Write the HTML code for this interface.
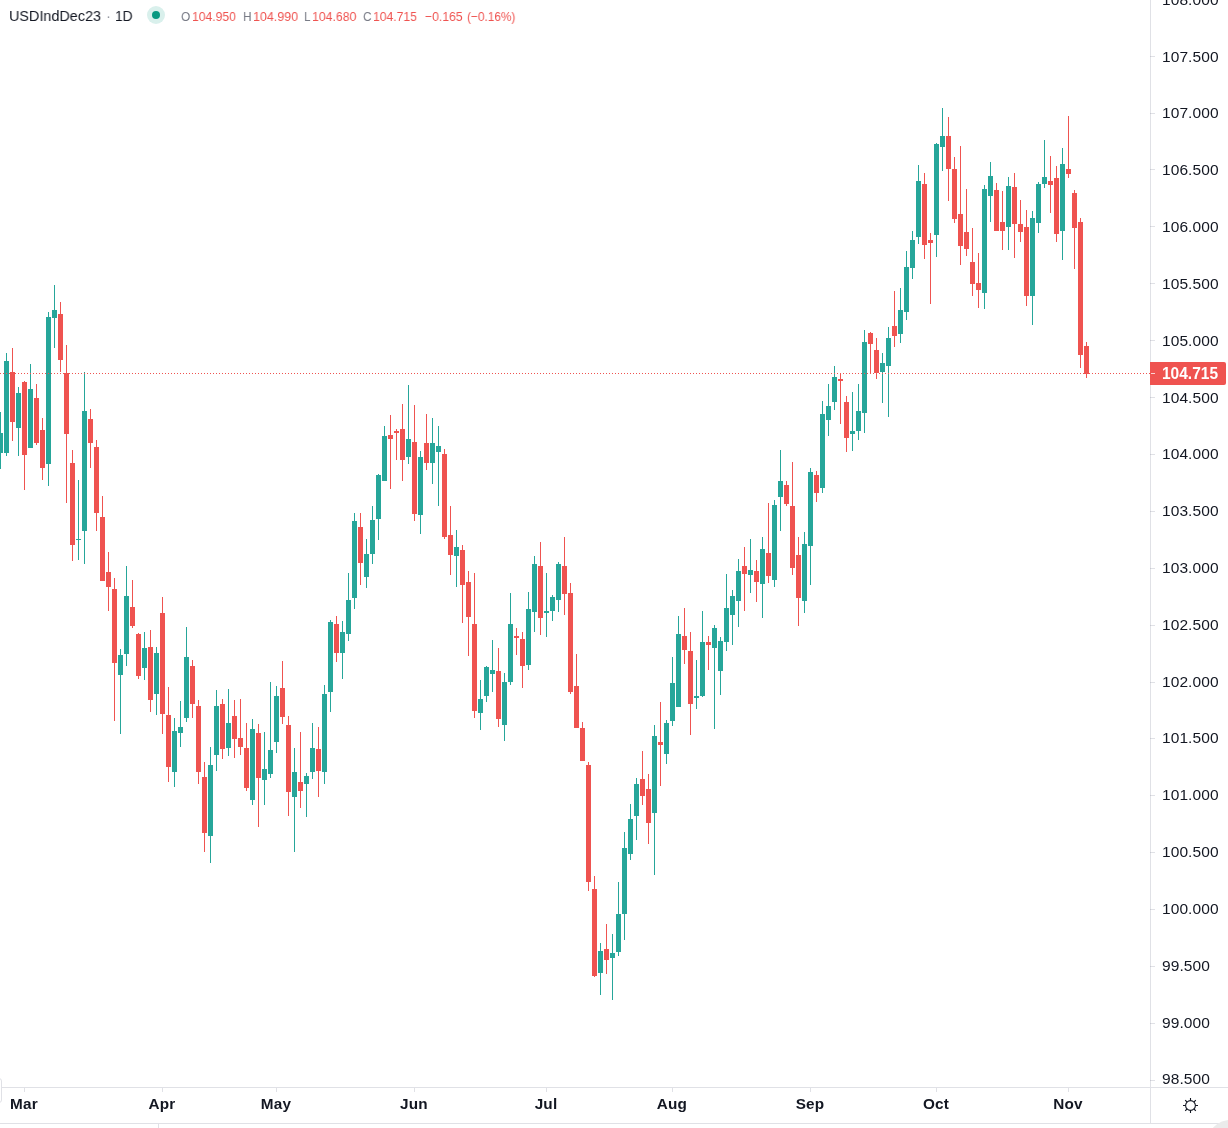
<!DOCTYPE html>
<html><head><meta charset="utf-8"><title>USDIndDec23</title>
<style>
html,body{margin:0;padding:0;background:#fff;}
body{width:1228px;height:1128px;position:relative;overflow:hidden;font-family:"Liberation Sans",sans-serif;color:#131722;}
svg{position:absolute;left:0;top:0;}
.pl,.tl,.hd,#plab{will-change:transform;}
.pl{position:absolute;left:1162px;width:60px;height:20px;line-height:20px;font-size:15.5px;white-space:nowrap;letter-spacing:0.08px;}
.tl{position:absolute;top:1094px;width:60px;text-align:center;font-weight:bold;font-size:15.3px;line-height:20px;white-space:nowrap;letter-spacing:0.2px;}
.hd{position:absolute;top:6px;height:20px;line-height:20px;white-space:nowrap;transform-origin:0 50%;}
.t1{font-size:15px;color:#131722;}
.g{color:#787b86;}
.rd{color:#ef5350;}
.s{font-size:13.5px;margin-top:0.6px;}
#plab{position:absolute;left:1150px;top:362px;width:76px;height:23px;background:#ef5350;border-radius:0 2px 2px 0;color:#fff;font-weight:bold;font-size:15.5px;line-height:22px;}
#plab i{position:absolute;left:1px;top:11px;width:4px;height:1px;background:#fbd3d2;}
#plab span{position:absolute;left:12px;top:0.5px;font-size:16px;transform:scaleX(0.969);transform-origin:0 50%;}
</style></head><body>
<svg width="1228" height="1128" viewBox="0 0 1228 1128" shape-rendering="crispEdges">
<rect x="0" y="412" width="1" height="57" fill="#26a69a"/>
<rect x="0" y="433" width="3" height="20" fill="#26a69a"/>
<rect x="6" y="353" width="1" height="103" fill="#26a69a"/>
<rect x="4" y="361" width="5" height="92" fill="#26a69a"/>
<rect x="12" y="348" width="1" height="93" fill="#ef5350"/>
<rect x="10" y="372" width="5" height="50" fill="#ef5350"/>
<rect x="18" y="387" width="1" height="69" fill="#26a69a"/>
<rect x="16" y="393" width="5" height="35" fill="#26a69a"/>
<rect x="24" y="381" width="1" height="109" fill="#ef5350"/>
<rect x="22" y="382" width="5" height="73" fill="#ef5350"/>
<rect x="30" y="364" width="1" height="84" fill="#26a69a"/>
<rect x="28" y="389" width="5" height="59" fill="#26a69a"/>
<rect x="36" y="384" width="1" height="61" fill="#ef5350"/>
<rect x="34" y="398" width="5" height="45" fill="#ef5350"/>
<rect x="42" y="418" width="1" height="62" fill="#ef5350"/>
<rect x="40" y="430" width="5" height="38" fill="#ef5350"/>
<rect x="48" y="312" width="1" height="174" fill="#26a69a"/>
<rect x="46" y="317" width="5" height="147" fill="#26a69a"/>
<rect x="54" y="285" width="1" height="63" fill="#26a69a"/>
<rect x="52" y="310" width="5" height="8" fill="#26a69a"/>
<rect x="60" y="302" width="1" height="70" fill="#ef5350"/>
<rect x="58" y="314" width="5" height="46" fill="#ef5350"/>
<rect x="66" y="345" width="1" height="158" fill="#ef5350"/>
<rect x="64" y="373" width="5" height="61" fill="#ef5350"/>
<rect x="72" y="450" width="1" height="111" fill="#ef5350"/>
<rect x="70" y="463" width="5" height="82" fill="#ef5350"/>
<rect x="78" y="480" width="1" height="80" fill="#26a69a"/>
<rect x="76" y="539" width="5" height="1" fill="#26a69a"/>
<rect x="84" y="372" width="1" height="192" fill="#26a69a"/>
<rect x="82" y="411" width="5" height="120" fill="#26a69a"/>
<rect x="90" y="409" width="1" height="59" fill="#ef5350"/>
<rect x="88" y="419" width="5" height="24" fill="#ef5350"/>
<rect x="96" y="440" width="1" height="91" fill="#ef5350"/>
<rect x="94" y="447" width="5" height="66" fill="#ef5350"/>
<rect x="102" y="496" width="1" height="85" fill="#ef5350"/>
<rect x="100" y="517" width="5" height="64" fill="#ef5350"/>
<rect x="108" y="552" width="1" height="59" fill="#ef5350"/>
<rect x="106" y="572" width="5" height="15" fill="#ef5350"/>
<rect x="114" y="578" width="1" height="143" fill="#ef5350"/>
<rect x="112" y="589" width="5" height="74" fill="#ef5350"/>
<rect x="120" y="649" width="1" height="85" fill="#26a69a"/>
<rect x="118" y="655" width="5" height="20" fill="#26a69a"/>
<rect x="126" y="566" width="1" height="100" fill="#26a69a"/>
<rect x="124" y="596" width="5" height="58" fill="#26a69a"/>
<rect x="132" y="580" width="1" height="48" fill="#ef5350"/>
<rect x="130" y="607" width="5" height="19" fill="#ef5350"/>
<rect x="138" y="633" width="1" height="46" fill="#ef5350"/>
<rect x="136" y="634" width="5" height="42" fill="#ef5350"/>
<rect x="144" y="632" width="1" height="48" fill="#26a69a"/>
<rect x="142" y="648" width="5" height="20" fill="#26a69a"/>
<rect x="150" y="630" width="1" height="82" fill="#ef5350"/>
<rect x="148" y="647" width="5" height="53" fill="#ef5350"/>
<rect x="156" y="647" width="1" height="68" fill="#26a69a"/>
<rect x="154" y="653" width="5" height="41" fill="#26a69a"/>
<rect x="162" y="597" width="1" height="137" fill="#ef5350"/>
<rect x="160" y="613" width="5" height="101" fill="#ef5350"/>
<rect x="168" y="687" width="1" height="95" fill="#ef5350"/>
<rect x="166" y="715" width="5" height="52" fill="#ef5350"/>
<rect x="174" y="718" width="1" height="69" fill="#26a69a"/>
<rect x="172" y="731" width="5" height="41" fill="#26a69a"/>
<rect x="180" y="701" width="1" height="46" fill="#26a69a"/>
<rect x="178" y="727" width="5" height="6" fill="#26a69a"/>
<rect x="186" y="627" width="1" height="95" fill="#26a69a"/>
<rect x="184" y="657" width="5" height="61" fill="#26a69a"/>
<rect x="192" y="660" width="1" height="58" fill="#ef5350"/>
<rect x="190" y="666" width="5" height="38" fill="#ef5350"/>
<rect x="198" y="700" width="1" height="84" fill="#ef5350"/>
<rect x="196" y="706" width="5" height="66" fill="#ef5350"/>
<rect x="204" y="762" width="1" height="90" fill="#ef5350"/>
<rect x="202" y="777" width="5" height="56" fill="#ef5350"/>
<rect x="210" y="747" width="1" height="116" fill="#26a69a"/>
<rect x="208" y="765" width="5" height="71" fill="#26a69a"/>
<rect x="216" y="690" width="1" height="81" fill="#26a69a"/>
<rect x="214" y="706" width="5" height="49" fill="#26a69a"/>
<rect x="222" y="699" width="1" height="60" fill="#ef5350"/>
<rect x="220" y="704" width="5" height="45" fill="#ef5350"/>
<rect x="228" y="689" width="1" height="67" fill="#26a69a"/>
<rect x="226" y="723" width="5" height="25" fill="#26a69a"/>
<rect x="234" y="700" width="1" height="58" fill="#ef5350"/>
<rect x="232" y="716" width="5" height="23" fill="#ef5350"/>
<rect x="240" y="699" width="1" height="56" fill="#ef5350"/>
<rect x="238" y="738" width="5" height="9" fill="#ef5350"/>
<rect x="246" y="723" width="1" height="68" fill="#ef5350"/>
<rect x="244" y="748" width="5" height="40" fill="#ef5350"/>
<rect x="252" y="719" width="1" height="86" fill="#26a69a"/>
<rect x="250" y="729" width="5" height="71" fill="#26a69a"/>
<rect x="258" y="724" width="1" height="103" fill="#ef5350"/>
<rect x="256" y="733" width="5" height="45" fill="#ef5350"/>
<rect x="264" y="732" width="1" height="73" fill="#26a69a"/>
<rect x="262" y="769" width="5" height="11" fill="#26a69a"/>
<rect x="270" y="682" width="1" height="96" fill="#26a69a"/>
<rect x="268" y="750" width="5" height="24" fill="#26a69a"/>
<rect x="276" y="686" width="1" height="67" fill="#26a69a"/>
<rect x="274" y="696" width="5" height="46" fill="#26a69a"/>
<rect x="282" y="661" width="1" height="63" fill="#ef5350"/>
<rect x="280" y="688" width="5" height="29" fill="#ef5350"/>
<rect x="288" y="716" width="1" height="100" fill="#ef5350"/>
<rect x="286" y="725" width="5" height="67" fill="#ef5350"/>
<rect x="294" y="748" width="1" height="104" fill="#26a69a"/>
<rect x="292" y="772" width="5" height="25" fill="#26a69a"/>
<rect x="300" y="732" width="1" height="76" fill="#ef5350"/>
<rect x="298" y="782" width="5" height="9" fill="#ef5350"/>
<rect x="306" y="773" width="1" height="44" fill="#26a69a"/>
<rect x="304" y="776" width="5" height="8" fill="#26a69a"/>
<rect x="312" y="723" width="1" height="56" fill="#26a69a"/>
<rect x="310" y="748" width="5" height="24" fill="#26a69a"/>
<rect x="318" y="727" width="1" height="70" fill="#ef5350"/>
<rect x="316" y="749" width="5" height="22" fill="#ef5350"/>
<rect x="324" y="685" width="1" height="99" fill="#26a69a"/>
<rect x="322" y="694" width="5" height="78" fill="#26a69a"/>
<rect x="330" y="620" width="1" height="92" fill="#26a69a"/>
<rect x="328" y="622" width="5" height="70" fill="#26a69a"/>
<rect x="336" y="616" width="1" height="46" fill="#ef5350"/>
<rect x="334" y="624" width="5" height="29" fill="#ef5350"/>
<rect x="342" y="621" width="1" height="58" fill="#26a69a"/>
<rect x="340" y="632" width="5" height="21" fill="#26a69a"/>
<rect x="348" y="573" width="1" height="68" fill="#26a69a"/>
<rect x="346" y="600" width="5" height="34" fill="#26a69a"/>
<rect x="354" y="513" width="1" height="96" fill="#26a69a"/>
<rect x="352" y="521" width="5" height="77" fill="#26a69a"/>
<rect x="360" y="513" width="1" height="72" fill="#ef5350"/>
<rect x="358" y="527" width="5" height="36" fill="#ef5350"/>
<rect x="366" y="539" width="1" height="49" fill="#26a69a"/>
<rect x="364" y="554" width="5" height="23" fill="#26a69a"/>
<rect x="372" y="506" width="1" height="58" fill="#26a69a"/>
<rect x="370" y="520" width="5" height="34" fill="#26a69a"/>
<rect x="378" y="474" width="1" height="66" fill="#26a69a"/>
<rect x="376" y="475" width="5" height="44" fill="#26a69a"/>
<rect x="384" y="426" width="1" height="55" fill="#26a69a"/>
<rect x="382" y="436" width="5" height="45" fill="#26a69a"/>
<rect x="390" y="415" width="1" height="74" fill="#ef5350"/>
<rect x="388" y="435" width="5" height="4" fill="#ef5350"/>
<rect x="396" y="429" width="1" height="31" fill="#ef5350"/>
<rect x="394" y="431" width="5" height="2" fill="#ef5350"/>
<rect x="402" y="404" width="1" height="77" fill="#ef5350"/>
<rect x="400" y="429" width="5" height="31" fill="#ef5350"/>
<rect x="408" y="385" width="1" height="79" fill="#26a69a"/>
<rect x="406" y="439" width="5" height="18" fill="#26a69a"/>
<rect x="414" y="405" width="1" height="116" fill="#ef5350"/>
<rect x="412" y="442" width="5" height="72" fill="#ef5350"/>
<rect x="420" y="451" width="1" height="83" fill="#26a69a"/>
<rect x="418" y="457" width="5" height="58" fill="#26a69a"/>
<rect x="426" y="414" width="1" height="56" fill="#ef5350"/>
<rect x="424" y="443" width="5" height="20" fill="#ef5350"/>
<rect x="432" y="418" width="1" height="66" fill="#26a69a"/>
<rect x="430" y="443" width="5" height="20" fill="#26a69a"/>
<rect x="438" y="426" width="1" height="80" fill="#26a69a"/>
<rect x="436" y="446" width="5" height="6" fill="#26a69a"/>
<rect x="444" y="449" width="1" height="90" fill="#ef5350"/>
<rect x="442" y="454" width="5" height="83" fill="#ef5350"/>
<rect x="450" y="506" width="1" height="69" fill="#ef5350"/>
<rect x="448" y="535" width="5" height="20" fill="#ef5350"/>
<rect x="456" y="530" width="1" height="57" fill="#26a69a"/>
<rect x="454" y="547" width="5" height="9" fill="#26a69a"/>
<rect x="462" y="545" width="1" height="78" fill="#ef5350"/>
<rect x="460" y="550" width="5" height="35" fill="#ef5350"/>
<rect x="468" y="571" width="1" height="85" fill="#ef5350"/>
<rect x="466" y="582" width="5" height="35" fill="#ef5350"/>
<rect x="474" y="573" width="1" height="145" fill="#ef5350"/>
<rect x="472" y="624" width="5" height="87" fill="#ef5350"/>
<rect x="480" y="680" width="1" height="50" fill="#26a69a"/>
<rect x="478" y="699" width="5" height="14" fill="#26a69a"/>
<rect x="486" y="666" width="1" height="36" fill="#26a69a"/>
<rect x="484" y="667" width="5" height="29" fill="#26a69a"/>
<rect x="492" y="640" width="1" height="52" fill="#26a69a"/>
<rect x="490" y="670" width="5" height="4" fill="#26a69a"/>
<rect x="498" y="648" width="1" height="79" fill="#ef5350"/>
<rect x="496" y="671" width="5" height="48" fill="#ef5350"/>
<rect x="504" y="673" width="1" height="68" fill="#26a69a"/>
<rect x="502" y="682" width="5" height="43" fill="#26a69a"/>
<rect x="510" y="593" width="1" height="92" fill="#26a69a"/>
<rect x="508" y="624" width="5" height="58" fill="#26a69a"/>
<rect x="516" y="628" width="1" height="27" fill="#ef5350"/>
<rect x="514" y="636" width="5" height="2" fill="#ef5350"/>
<rect x="522" y="632" width="1" height="56" fill="#ef5350"/>
<rect x="520" y="639" width="5" height="27" fill="#ef5350"/>
<rect x="528" y="592" width="1" height="78" fill="#26a69a"/>
<rect x="526" y="609" width="5" height="56" fill="#26a69a"/>
<rect x="534" y="556" width="1" height="76" fill="#26a69a"/>
<rect x="532" y="564" width="5" height="48" fill="#26a69a"/>
<rect x="540" y="542" width="1" height="93" fill="#ef5350"/>
<rect x="538" y="566" width="5" height="52" fill="#ef5350"/>
<rect x="546" y="573" width="1" height="64" fill="#26a69a"/>
<rect x="544" y="611" width="5" height="2" fill="#26a69a"/>
<rect x="552" y="595" width="1" height="26" fill="#26a69a"/>
<rect x="550" y="597" width="5" height="14" fill="#26a69a"/>
<rect x="558" y="562" width="1" height="50" fill="#26a69a"/>
<rect x="556" y="564" width="5" height="36" fill="#26a69a"/>
<rect x="564" y="537" width="1" height="78" fill="#ef5350"/>
<rect x="562" y="566" width="5" height="28" fill="#ef5350"/>
<rect x="570" y="583" width="1" height="111" fill="#ef5350"/>
<rect x="568" y="593" width="5" height="99" fill="#ef5350"/>
<rect x="576" y="654" width="1" height="74" fill="#ef5350"/>
<rect x="574" y="686" width="5" height="42" fill="#ef5350"/>
<rect x="582" y="722" width="1" height="39" fill="#ef5350"/>
<rect x="580" y="728" width="5" height="33" fill="#ef5350"/>
<rect x="588" y="762" width="1" height="129" fill="#ef5350"/>
<rect x="586" y="765" width="5" height="117" fill="#ef5350"/>
<rect x="594" y="876" width="1" height="101" fill="#ef5350"/>
<rect x="592" y="889" width="5" height="87" fill="#ef5350"/>
<rect x="600" y="943" width="1" height="52" fill="#26a69a"/>
<rect x="598" y="951" width="5" height="22" fill="#26a69a"/>
<rect x="606" y="924" width="1" height="50" fill="#ef5350"/>
<rect x="604" y="949" width="5" height="11" fill="#ef5350"/>
<rect x="612" y="934" width="1" height="66" fill="#26a69a"/>
<rect x="610" y="953" width="5" height="5" fill="#26a69a"/>
<rect x="618" y="882" width="1" height="74" fill="#26a69a"/>
<rect x="616" y="914" width="5" height="38" fill="#26a69a"/>
<rect x="624" y="832" width="1" height="108" fill="#26a69a"/>
<rect x="622" y="848" width="5" height="66" fill="#26a69a"/>
<rect x="630" y="804" width="1" height="56" fill="#26a69a"/>
<rect x="628" y="819" width="5" height="35" fill="#26a69a"/>
<rect x="636" y="778" width="1" height="62" fill="#26a69a"/>
<rect x="634" y="784" width="5" height="32" fill="#26a69a"/>
<rect x="642" y="751" width="1" height="54" fill="#ef5350"/>
<rect x="640" y="779" width="5" height="17" fill="#ef5350"/>
<rect x="648" y="774" width="1" height="70" fill="#ef5350"/>
<rect x="646" y="789" width="5" height="34" fill="#ef5350"/>
<rect x="654" y="725" width="1" height="150" fill="#26a69a"/>
<rect x="652" y="736" width="5" height="77" fill="#26a69a"/>
<rect x="660" y="702" width="1" height="84" fill="#ef5350"/>
<rect x="658" y="742" width="5" height="3" fill="#ef5350"/>
<rect x="666" y="720" width="1" height="44" fill="#26a69a"/>
<rect x="664" y="723" width="5" height="31" fill="#26a69a"/>
<rect x="672" y="657" width="1" height="69" fill="#26a69a"/>
<rect x="670" y="683" width="5" height="38" fill="#26a69a"/>
<rect x="678" y="616" width="1" height="91" fill="#26a69a"/>
<rect x="676" y="634" width="5" height="73" fill="#26a69a"/>
<rect x="684" y="608" width="1" height="56" fill="#ef5350"/>
<rect x="682" y="636" width="5" height="14" fill="#ef5350"/>
<rect x="690" y="632" width="1" height="103" fill="#ef5350"/>
<rect x="688" y="651" width="5" height="53" fill="#ef5350"/>
<rect x="696" y="660" width="1" height="49" fill="#26a69a"/>
<rect x="694" y="696" width="5" height="2" fill="#26a69a"/>
<rect x="702" y="611" width="1" height="86" fill="#26a69a"/>
<rect x="700" y="642" width="5" height="54" fill="#26a69a"/>
<rect x="708" y="636" width="1" height="34" fill="#ef5350"/>
<rect x="706" y="642" width="5" height="3" fill="#ef5350"/>
<rect x="714" y="625" width="1" height="104" fill="#26a69a"/>
<rect x="712" y="628" width="5" height="20" fill="#26a69a"/>
<rect x="720" y="637" width="1" height="58" fill="#26a69a"/>
<rect x="718" y="641" width="5" height="30" fill="#26a69a"/>
<rect x="726" y="574" width="1" height="77" fill="#26a69a"/>
<rect x="724" y="608" width="5" height="34" fill="#26a69a"/>
<rect x="732" y="590" width="1" height="55" fill="#26a69a"/>
<rect x="730" y="596" width="5" height="19" fill="#26a69a"/>
<rect x="738" y="559" width="1" height="68" fill="#26a69a"/>
<rect x="736" y="571" width="5" height="30" fill="#26a69a"/>
<rect x="744" y="547" width="1" height="64" fill="#ef5350"/>
<rect x="742" y="566" width="5" height="8" fill="#ef5350"/>
<rect x="750" y="539" width="1" height="54" fill="#26a69a"/>
<rect x="748" y="570" width="5" height="5" fill="#26a69a"/>
<rect x="756" y="560" width="1" height="42" fill="#ef5350"/>
<rect x="754" y="571" width="5" height="11" fill="#ef5350"/>
<rect x="762" y="537" width="1" height="81" fill="#26a69a"/>
<rect x="760" y="549" width="5" height="35" fill="#26a69a"/>
<rect x="768" y="503" width="1" height="80" fill="#ef5350"/>
<rect x="766" y="553" width="5" height="23" fill="#ef5350"/>
<rect x="774" y="500" width="1" height="87" fill="#26a69a"/>
<rect x="772" y="505" width="5" height="75" fill="#26a69a"/>
<rect x="780" y="450" width="1" height="81" fill="#26a69a"/>
<rect x="778" y="481" width="5" height="16" fill="#26a69a"/>
<rect x="786" y="481" width="1" height="25" fill="#ef5350"/>
<rect x="784" y="485" width="5" height="19" fill="#ef5350"/>
<rect x="792" y="462" width="1" height="113" fill="#ef5350"/>
<rect x="790" y="506" width="5" height="62" fill="#ef5350"/>
<rect x="798" y="537" width="1" height="89" fill="#ef5350"/>
<rect x="796" y="555" width="5" height="43" fill="#ef5350"/>
<rect x="804" y="532" width="1" height="81" fill="#26a69a"/>
<rect x="802" y="544" width="5" height="57" fill="#26a69a"/>
<rect x="810" y="468" width="1" height="117" fill="#26a69a"/>
<rect x="808" y="472" width="5" height="74" fill="#26a69a"/>
<rect x="816" y="471" width="1" height="31" fill="#ef5350"/>
<rect x="814" y="475" width="5" height="18" fill="#ef5350"/>
<rect x="822" y="401" width="1" height="92" fill="#26a69a"/>
<rect x="820" y="414" width="5" height="74" fill="#26a69a"/>
<rect x="828" y="384" width="1" height="52" fill="#26a69a"/>
<rect x="826" y="406" width="5" height="14" fill="#26a69a"/>
<rect x="834" y="366" width="1" height="44" fill="#26a69a"/>
<rect x="832" y="377" width="5" height="25" fill="#26a69a"/>
<rect x="840" y="373" width="1" height="51" fill="#ef5350"/>
<rect x="838" y="379" width="5" height="2" fill="#ef5350"/>
<rect x="846" y="396" width="1" height="56" fill="#ef5350"/>
<rect x="844" y="402" width="5" height="36" fill="#ef5350"/>
<rect x="852" y="392" width="1" height="59" fill="#26a69a"/>
<rect x="850" y="431" width="5" height="3" fill="#26a69a"/>
<rect x="858" y="384" width="1" height="56" fill="#26a69a"/>
<rect x="856" y="411" width="5" height="20" fill="#26a69a"/>
<rect x="864" y="330" width="1" height="103" fill="#26a69a"/>
<rect x="862" y="342" width="5" height="71" fill="#26a69a"/>
<rect x="870" y="332" width="1" height="42" fill="#ef5350"/>
<rect x="868" y="333" width="5" height="11" fill="#ef5350"/>
<rect x="876" y="338" width="1" height="41" fill="#ef5350"/>
<rect x="874" y="350" width="5" height="23" fill="#ef5350"/>
<rect x="882" y="353" width="1" height="50" fill="#26a69a"/>
<rect x="880" y="363" width="5" height="9" fill="#26a69a"/>
<rect x="888" y="327" width="1" height="90" fill="#26a69a"/>
<rect x="886" y="338" width="5" height="28" fill="#26a69a"/>
<rect x="894" y="291" width="1" height="56" fill="#ef5350"/>
<rect x="892" y="326" width="5" height="10" fill="#ef5350"/>
<rect x="900" y="288" width="1" height="55" fill="#26a69a"/>
<rect x="898" y="310" width="5" height="24" fill="#26a69a"/>
<rect x="906" y="251" width="1" height="69" fill="#26a69a"/>
<rect x="904" y="267" width="5" height="45" fill="#26a69a"/>
<rect x="912" y="231" width="1" height="48" fill="#26a69a"/>
<rect x="910" y="240" width="5" height="28" fill="#26a69a"/>
<rect x="918" y="165" width="1" height="79" fill="#26a69a"/>
<rect x="916" y="181" width="5" height="56" fill="#26a69a"/>
<rect x="924" y="173" width="1" height="86" fill="#ef5350"/>
<rect x="922" y="184" width="5" height="61" fill="#ef5350"/>
<rect x="930" y="233" width="1" height="71" fill="#ef5350"/>
<rect x="928" y="240" width="5" height="3" fill="#ef5350"/>
<rect x="936" y="143" width="1" height="114" fill="#26a69a"/>
<rect x="934" y="144" width="5" height="91" fill="#26a69a"/>
<rect x="942" y="108" width="1" height="63" fill="#26a69a"/>
<rect x="940" y="136" width="5" height="11" fill="#26a69a"/>
<rect x="948" y="117" width="1" height="84" fill="#ef5350"/>
<rect x="946" y="136" width="5" height="33" fill="#ef5350"/>
<rect x="954" y="157" width="1" height="66" fill="#ef5350"/>
<rect x="952" y="169" width="5" height="50" fill="#ef5350"/>
<rect x="960" y="146" width="1" height="119" fill="#ef5350"/>
<rect x="958" y="214" width="5" height="32" fill="#ef5350"/>
<rect x="966" y="189" width="1" height="67" fill="#ef5350"/>
<rect x="964" y="232" width="5" height="17" fill="#ef5350"/>
<rect x="972" y="228" width="1" height="68" fill="#ef5350"/>
<rect x="970" y="262" width="5" height="22" fill="#ef5350"/>
<rect x="978" y="253" width="1" height="55" fill="#ef5350"/>
<rect x="976" y="283" width="5" height="7" fill="#ef5350"/>
<rect x="984" y="185" width="1" height="124" fill="#26a69a"/>
<rect x="982" y="189" width="5" height="104" fill="#26a69a"/>
<rect x="990" y="162" width="1" height="60" fill="#26a69a"/>
<rect x="988" y="176" width="5" height="20" fill="#26a69a"/>
<rect x="996" y="183" width="1" height="48" fill="#ef5350"/>
<rect x="994" y="190" width="5" height="41" fill="#ef5350"/>
<rect x="1002" y="191" width="1" height="59" fill="#ef5350"/>
<rect x="1000" y="222" width="5" height="9" fill="#ef5350"/>
<rect x="1008" y="177" width="1" height="73" fill="#26a69a"/>
<rect x="1006" y="186" width="5" height="41" fill="#26a69a"/>
<rect x="1014" y="173" width="1" height="85" fill="#ef5350"/>
<rect x="1012" y="187" width="5" height="37" fill="#ef5350"/>
<rect x="1020" y="200" width="1" height="42" fill="#ef5350"/>
<rect x="1018" y="224" width="5" height="8" fill="#ef5350"/>
<rect x="1026" y="210" width="1" height="96" fill="#ef5350"/>
<rect x="1024" y="227" width="5" height="69" fill="#ef5350"/>
<rect x="1032" y="211" width="1" height="114" fill="#26a69a"/>
<rect x="1030" y="218" width="5" height="78" fill="#26a69a"/>
<rect x="1038" y="182" width="1" height="51" fill="#26a69a"/>
<rect x="1036" y="184" width="5" height="39" fill="#26a69a"/>
<rect x="1044" y="140" width="1" height="48" fill="#26a69a"/>
<rect x="1042" y="177" width="5" height="7" fill="#26a69a"/>
<rect x="1050" y="156" width="1" height="57" fill="#ef5350"/>
<rect x="1048" y="181" width="5" height="4" fill="#ef5350"/>
<rect x="1056" y="166" width="1" height="76" fill="#ef5350"/>
<rect x="1054" y="178" width="5" height="56" fill="#ef5350"/>
<rect x="1062" y="148" width="1" height="112" fill="#26a69a"/>
<rect x="1060" y="164" width="5" height="67" fill="#26a69a"/>
<rect x="1068" y="116" width="1" height="62" fill="#ef5350"/>
<rect x="1066" y="169" width="5" height="5" fill="#ef5350"/>
<rect x="1074" y="190" width="1" height="79" fill="#ef5350"/>
<rect x="1072" y="193" width="5" height="35" fill="#ef5350"/>
<rect x="1080" y="218" width="1" height="150" fill="#ef5350"/>
<rect x="1078" y="222" width="5" height="133" fill="#ef5350"/>
<rect x="1086" y="342" width="1" height="36" fill="#ef5350"/>
<rect x="1084" y="346" width="5" height="28" fill="#ef5350"/>
<line x1="0" y1="373.5" x2="1150" y2="373.5" stroke="#ef5350" stroke-width="1" stroke-dasharray="1 2"/>
<rect x="1150" y="0" width="1" height="1123" fill="#e0e1e6"/>
<rect x="2" y="1087" width="1226" height="1" fill="#e0e1e6"/>
<rect x="0" y="1123" width="1228" height="1" fill="#e0e1e6"/>
<rect x="158" y="1124" width="1" height="4" fill="#e0e1e6"/>
<rect x="1151" y="56" width="4" height="1" fill="#e0e1e6"/><rect x="1150" y="56" width="1" height="1" fill="#c9cad1"/><rect x="1151" y="113" width="4" height="1" fill="#e0e1e6"/><rect x="1150" y="113" width="1" height="1" fill="#c9cad1"/><rect x="1151" y="169" width="4" height="1" fill="#e0e1e6"/><rect x="1150" y="169" width="1" height="1" fill="#c9cad1"/><rect x="1151" y="226" width="4" height="1" fill="#e0e1e6"/><rect x="1150" y="226" width="1" height="1" fill="#c9cad1"/><rect x="1151" y="283" width="4" height="1" fill="#e0e1e6"/><rect x="1150" y="283" width="1" height="1" fill="#c9cad1"/><rect x="1151" y="340" width="4" height="1" fill="#e0e1e6"/><rect x="1150" y="340" width="1" height="1" fill="#c9cad1"/><rect x="1151" y="397" width="4" height="1" fill="#e0e1e6"/><rect x="1150" y="397" width="1" height="1" fill="#c9cad1"/><rect x="1151" y="454" width="4" height="1" fill="#e0e1e6"/><rect x="1150" y="454" width="1" height="1" fill="#c9cad1"/><rect x="1151" y="511" width="4" height="1" fill="#e0e1e6"/><rect x="1150" y="511" width="1" height="1" fill="#c9cad1"/><rect x="1151" y="568" width="4" height="1" fill="#e0e1e6"/><rect x="1150" y="568" width="1" height="1" fill="#c9cad1"/><rect x="1151" y="625" width="4" height="1" fill="#e0e1e6"/><rect x="1150" y="625" width="1" height="1" fill="#c9cad1"/><rect x="1151" y="682" width="4" height="1" fill="#e0e1e6"/><rect x="1150" y="682" width="1" height="1" fill="#c9cad1"/><rect x="1151" y="738" width="4" height="1" fill="#e0e1e6"/><rect x="1150" y="738" width="1" height="1" fill="#c9cad1"/><rect x="1151" y="795" width="4" height="1" fill="#e0e1e6"/><rect x="1150" y="795" width="1" height="1" fill="#c9cad1"/><rect x="1151" y="852" width="4" height="1" fill="#e0e1e6"/><rect x="1150" y="852" width="1" height="1" fill="#c9cad1"/><rect x="1151" y="909" width="4" height="1" fill="#e0e1e6"/><rect x="1150" y="909" width="1" height="1" fill="#c9cad1"/><rect x="1151" y="966" width="4" height="1" fill="#e0e1e6"/><rect x="1150" y="966" width="1" height="1" fill="#c9cad1"/><rect x="1151" y="1023" width="4" height="1" fill="#e0e1e6"/><rect x="1150" y="1023" width="1" height="1" fill="#c9cad1"/><rect x="1151" y="1080" width="4" height="1" fill="#e0e1e6"/><rect x="1150" y="1080" width="1" height="1" fill="#c9cad1"/>
<rect x="24" y="1088" width="1" height="4" fill="#e0e1e6"/><rect x="162" y="1088" width="1" height="4" fill="#e0e1e6"/><rect x="276" y="1088" width="1" height="4" fill="#e0e1e6"/><rect x="414" y="1088" width="1" height="4" fill="#e0e1e6"/><rect x="546" y="1088" width="1" height="4" fill="#e0e1e6"/><rect x="672" y="1088" width="1" height="4" fill="#e0e1e6"/><rect x="810" y="1088" width="1" height="4" fill="#e0e1e6"/><rect x="936" y="1088" width="1" height="4" fill="#e0e1e6"/><rect x="1068" y="1088" width="1" height="4" fill="#e0e1e6"/>
</svg>
<svg width="1228" height="1128" viewBox="0 0 1228 1128">
<circle cx="1231.5" cy="1144.8" r="25.1" fill="#ebebeb"/>
<rect x="-3.5" y="1078.5" width="5" height="24" rx="2.5" fill="#fff" stroke="#e0e1e6" stroke-width="1"/>
<g stroke="#131722" stroke-width="1.1" fill="none" stroke-linecap="butt">
<circle cx="1190.5" cy="1105.5" r="4.9"/>
<path d="M1190.5 1098v2.6M1190.5 1110.4v2.6M1183 1105.5h2.6M1195.4 1105.5h2.6M1185.2 1100.2l1.8 1.8M1194 1109l1.8 1.8M1185.2 1110.8l1.8-1.8M1194 1102l1.8-1.8"/>
</g>
<circle cx="156" cy="15" r="9" fill="#d9f0ec"/>
<circle cx="156" cy="15" r="4" fill="#089981"/>
</svg>
<div class="pl" style="top:-10px">108.000</div><div class="pl" style="top:47px">107.500</div><div class="pl" style="top:103px">107.000</div><div class="pl" style="top:160px">106.500</div><div class="pl" style="top:217px">106.000</div><div class="pl" style="top:274px">105.500</div><div class="pl" style="top:331px">105.000</div><div class="pl" style="top:388px">104.500</div><div class="pl" style="top:444px">104.000</div><div class="pl" style="top:501px">103.500</div><div class="pl" style="top:558px">103.000</div><div class="pl" style="top:615px">102.500</div><div class="pl" style="top:672px">102.000</div><div class="pl" style="top:728px">101.500</div><div class="pl" style="top:785px">101.000</div><div class="pl" style="top:842px">100.500</div><div class="pl" style="top:899px">100.000</div><div class="pl" style="top:956px">99.500</div><div class="pl" style="top:1013px">99.000</div><div class="pl" style="top:1069px">98.500</div>
<div class="tl" style="left:-6.5px">Mar</div><div class="tl" style="left:131.5px">Apr</div><div class="tl" style="left:245.5px">May</div><div class="tl" style="left:383.5px">Jun</div><div class="tl" style="left:515.5px">Jul</div><div class="tl" style="left:641.5px">Aug</div><div class="tl" style="left:779.5px">Sep</div><div class="tl" style="left:905.5px">Oct</div><div class="tl" style="left:1037.5px">Nov</div>
<div id="plab"><i></i><span>104.715</span></div>
<div class="hd t1" style="left:8.8px;transform:scaleX(0.96)">USDIndDec23</div>
<div class="hd t1" style="left:105.5px;color:#9598a1">·</div>
<div class="hd t1" style="left:115px;transform:scaleX(0.92)">1D</div>
<div class="hd s g" style="left:180.6px;transform:scaleX(0.88)">O</div>
<div class="hd s rd" style="left:192px;transform:scaleX(0.90)">104.950</div>
<div class="hd s g" style="left:242.6px;transform:scaleX(0.88)">H</div>
<div class="hd s rd" style="left:253.3px;transform:scaleX(0.925)">104.990</div>
<div class="hd s g" style="left:304.1px;transform:scaleX(0.88)">L</div>
<div class="hd s rd" style="left:312px;transform:scaleX(0.91)">104.680</div>
<div class="hd s g" style="left:363.3px;transform:scaleX(0.88)">C</div>
<div class="hd s rd" style="left:373px;transform:scaleX(0.90)">104.715</div>
<div class="hd s rd" style="left:424.5px;transform:scaleX(0.90)">−0.165</div>
<div class="hd s rd" style="left:467px;transform:scaleX(0.875)">(−0.16%)</div>
</body></html>
